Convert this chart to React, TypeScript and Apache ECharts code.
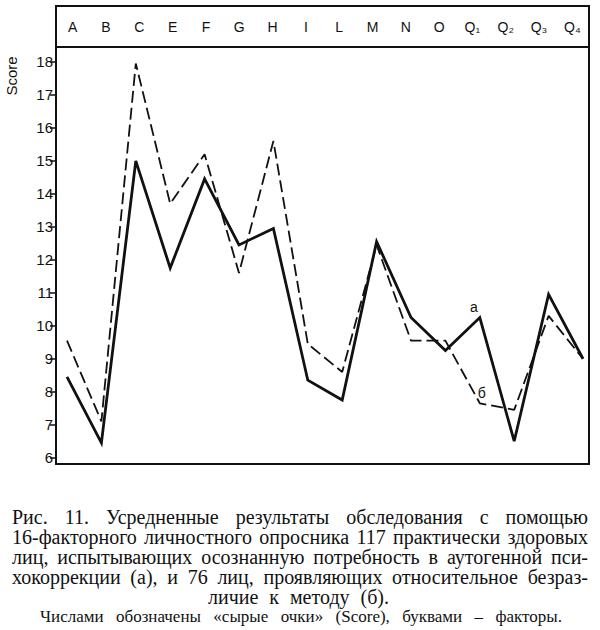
import React, { useEffect, useRef } from "react";
import * as echarts from "echarts";

const categories = ["A", "B", "C", "E", "F", "G", "H", "I", "L", "M", "N", "O", "Q₁", "Q₂", "Q₃", "Q₄"];
const seriesA = [8.45, 6.45, 15.0, 11.75, 14.45, 12.45, 12.95, 8.35, 7.75, 12.55, 10.25, 9.25, 10.25, 6.5, 10.95, 9.0];
const seriesB = [9.55, 7.1, 17.95, 13.7, 15.2, 11.6, 15.6, 9.45, 8.6, 12.45, 9.55, 9.55, 7.65, 7.45, 10.3, 9.0];
const yTicks = [6, 7, 8, 9, 10, 11, 12, 13, 14, 15, 16, 17, 18];
const labelIndexA = 12;
const labelIndexB = 12;
const nameA = "а";
const nameB = "б";
const yName = "Score";
const captionLines = [
  "Рис. 11. Усредненные результаты обследования с помощью",
  "16-факторного личностного опросника 117 практически здоровых",
  "лиц, испытывающих осознанную потребность в аутогенной пси-",
  "хокоррекции (а), и 76 лиц, проявляющих относительное безраз-",
  "личие к методу (б).",
  "Числами обозначены «сырые очки» (Score), буквами – факторы.",
];

const INK = "#111111";
const SANS = "'Liberation Sans', Arial, sans-serif";
const SERIF = "'Liberation Serif', 'Times New Roman', serif";

function justifiedLine(text: string, x0: number, x1: number, y: number, size: number) {
  const canvas = document.createElement("canvas");
  const ctx = canvas.getContext("2d")!;
  ctx.font = `${size}px ${SERIF}`;
  const words = text.split(" ");
  const widths = words.map((w) => ctx.measureText(w).width);
  const sum = widths.reduce((a, b) => a + b, 0);
  const space = ctx.measureText(" ").width;
  let gap = words.length > 1 ? (x1 - x0 - sum) / (words.length - 1) : 0;
  let start = x0;
  if (gap < space * 0.6) {
    gap = space * 0.6;
    const total = sum + gap * (words.length - 1);
    start = (x0 + x1) / 2 - total / 2;
  }
  let x = start;
  return words.map((w, i) => {
    const el = {
      type: "text",
      x,
      y,
      silent: true,
      style: {
        text: w,
        fill: INK,
        fontSize: size,
        fontFamily: SERIF,
        align: "left",
        verticalAlign: "middle",
      },
    };
    x += widths[i] + gap;
    return el;
  });
}

function pointLabel(idx: number, value: number, text: string, offset: number[]) {
  return {
    symbol: "rect",
    symbolSize: [1, 1],
    silent: true,
    animation: false,
    data: [
      {
        coord: [idx, value],
        itemStyle: { color: "rgba(0,0,0,0)" },
        label: {
          show: true,
          formatter: text,
          position: "top",
          distance: 3,
          offset,
          fontSize: 14,
          fontFamily: SANS,
          color: INK,
        },
      },
    ],
  };
}

export default function App() {
  const ref = useRef<HTMLDivElement>(null);
  useEffect(() => {
    if (!ref.current) return;
    const chart = echarts.init(ref.current, undefined, { renderer: "svg" });

    const captionSpec: [number, number, number, number][] = [
      [12, 588, 517, 20],
      [12, 588, 537, 20],
      [12, 588, 557, 20],
      [12, 588, 577, 20],
      [208, 389, 597, 20],
      [40, 562, 616, 17],
    ];
    const captionEls: any[] = [];
    captionLines.forEach((line, i) => {
      const [a, b, y, s] = captionSpec[i];
      captionEls.push(...justifiedLine(line, a, b, y, s));
    });

    const option: any = {
      animation: false,
      backgroundColor: "#ffffff",
      grid: [
        { left: 67, right: 17, top: 47, bottom: 166 },
        { left: 56, right: 11, top: 47, bottom: 166, show: true, borderColor: INK, borderWidth: 2, backgroundColor: "transparent" },
        { left: 56, right: 11, top: 6, height: 41, show: true, borderColor: INK, borderWidth: 2, backgroundColor: "transparent" },
      ],
      xAxis: [
        {
          gridIndex: 0,
          type: "category",
          data: categories,
          boundaryGap: false,
          axisLine: { show: false },
          axisTick: { show: false },
          axisLabel: { show: false },
          splitLine: { show: false },
        },
        { gridIndex: 1, type: "value", show: false, min: 0, max: 1 },
        {
          gridIndex: 2,
          type: "category",
          data: categories,
          boundaryGap: true,
          position: "bottom",
          axisLine: { show: false },
          axisTick: { show: false },
          splitLine: { show: false },
          axisLabel: {
            inside: true,
            margin: 13,
            interval: 0,
            fontSize: 14,
            fontFamily: SANS,
            color: INK,
          },
        },
      ],
      yAxis: [
        {
          gridIndex: 0,
          type: "value",
          min: 5.81,
          max: 18.45,
          offset: 11,
          axisLine: { show: false },
          splitLine: { show: false },
          axisTick: {
            show: true,
            length: 6,
            customValues: yTicks,
            lineStyle: { color: INK, width: 1.5 },
          },
          axisLabel: {
            customValues: yTicks,
            margin: 3,
            fontSize: 15,
            fontFamily: SANS,
            color: INK,
          },
        },
        { gridIndex: 1, type: "value", show: false, min: 0, max: 1 },
        { gridIndex: 2, type: "value", show: false, min: 0, max: 1 },
      ],
      graphic: [
        {
          type: "text",
          x: 11,
          y: 76,
          rotation: Math.PI / 2,
          silent: true,
          style: {
            text: yName,
            fill: INK,
            fontSize: 15,
            fontFamily: SANS,
            align: "center",
            verticalAlign: "middle",
          },
        },
        ...captionEls,
      ],
      series: [
        {
          name: nameA,
          type: "line",
          xAxisIndex: 0,
          yAxisIndex: 0,
          symbol: "none",
          lineStyle: { color: INK, width: 2.8, join: "miter" },
          data: seriesA,
          markPoint: pointLabel(labelIndexA, seriesA[labelIndexA], nameA, [-6, 0]),
          z: 3,
        },
        {
          name: nameB,
          type: "line",
          xAxisIndex: 0,
          yAxisIndex: 0,
          symbol: "none",
          lineStyle: { color: INK, width: 1.8, type: [12, 5] },
          data: seriesB,
          markPoint: pointLabel(labelIndexB, seriesB[labelIndexB], nameB, [2, 0]),
          z: 2,
        },
      ],
    };
    chart.setOption(option);
    return () => chart.dispose();
  }, []);

  return (
    <div
      ref={ref}
      style={{ position: "absolute", left: 0, top: 0, width: 600, height: 630 }}
    />
  );
}
